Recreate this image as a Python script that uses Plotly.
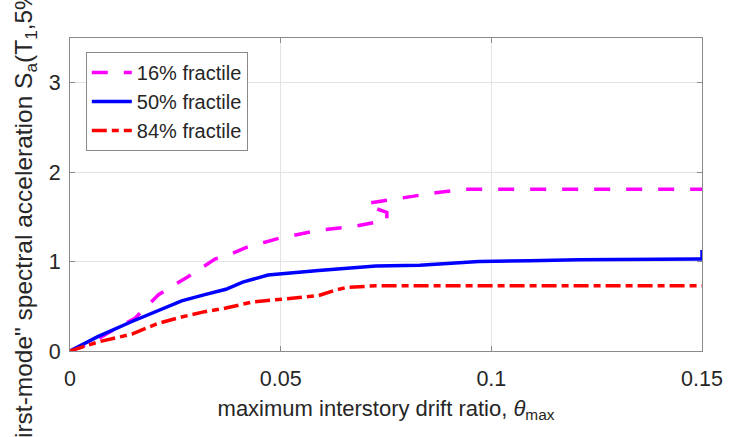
import plotly.graph_objects as go

# 16% fractile
x16 = [0, 0.005, 0.009, 0.0155, 0.021, 0.028, 0.0345, 0.037, 0.042, 0.0496, 0.059, 0.067, 0.0726, 0.0752, 0.0752, 0.0716, 0.0705, 0.0787, 0.0868, 0.094, 0.15]
y16 = [0, 0.09, 0.20, 0.37, 0.63, 0.83, 1.03, 1.06, 1.16, 1.26, 1.35, 1.39, 1.44, 1.46, 1.55, 1.61, 1.65, 1.71, 1.77, 1.81, 1.81]
# 50% fractile
x50 = [0, 0.0066, 0.0147, 0.0208, 0.0265, 0.032, 0.037, 0.041, 0.047, 0.059, 0.0726, 0.083, 0.097, 0.109, 0.1206, 0.149, 0.15, 0.15]
y50 = [0, 0.16, 0.33, 0.45, 0.56, 0.63, 0.69, 0.77, 0.85, 0.90, 0.95, 0.96, 1.00, 1.01, 1.02, 1.03, 1.03, 1.13]
# 84% fractile
x84 = [0, 0.0066, 0.0147, 0.021, 0.0265, 0.032, 0.037, 0.0435, 0.055, 0.059, 0.063, 0.0655, 0.0726, 0.15]
y84 = [0, 0.10, 0.19, 0.31, 0.38, 0.44, 0.48, 0.55, 0.60, 0.62, 0.68, 0.71, 0.73, 0.73]

names = ["16% fractile", "50% fractile", "84% fractile"]
xticks = [0, 0.05, 0.1, 0.15]
xticklabels = ["0", "0.05", "0.1", "0.15"]
yticks = [0, 1, 2, 3]

FONT = "Liberation Sans, Arial, sans-serif"
TXT = "#262626"

fig = go.Figure()
fig.add_trace(go.Scatter(x=x16, y=y16, mode="lines", name=names[0],
                         line=dict(color="#FF00FF", width=3.5, dash="16px,16px")))
fig.add_trace(go.Scatter(x=x50, y=y50, mode="lines", name=names[1],
                         line=dict(color="#0000FF", width=3.5)))
fig.add_trace(go.Scatter(x=x84, y=y84, mode="lines", name=names[2],
                         line=dict(color="#FF0000", width=3.5, dash="15px,5px,7px,5px")))

axcommon = dict(showline=True, linecolor="#8a8a8a", linewidth=1, mirror="ticks",
                ticks="inside", ticklen=5, tickcolor="#8a8a8a",
                showgrid=True, gridcolor="#e3e3e3", gridwidth=1,
                zeroline=False, tickfont=dict(family=FONT, size=21.5, color=TXT))

fig.update_xaxes(range=[0, 0.15], tickvals=xticks, ticktext=xticklabels,
                 ticklabelstandoff=8,
                 title=dict(text="maximum interstory drift ratio, <i>θ</i><sub>max</sub>",
                            font=dict(family=FONT, size=22, color=TXT), standoff=10),
                 **axcommon)
fig.update_yaxes(range=[0, 3.5], tickvals=yticks, ticklabelstandoff=4, **axcommon)

fig.add_annotation(text='"first-mode" spectral acceleration S<sub>a</sub>(T<sub>1</sub>,5%) (g)',
                   textangle=-90, xref="paper", yref="paper", x=0, y=0.5,
                   xanchor="center", yanchor="middle", xshift=-45, yshift=-4,
                   showarrow=False,
                   font=dict(family=FONT, size=24.5, color=TXT))

fig.update_layout(
    width=735, height=437,
    margin=dict(l=70, r=31, t=38, b=86),
    paper_bgcolor="white", plot_bgcolor="white",
    showlegend=True,
    legend=dict(x=0.025, y=0.955, xanchor="left", yanchor="top",
                bgcolor="white", bordercolor="#8a8a8a", borderwidth=1,
                font=dict(family=FONT, size=20, color=TXT),
                itemwidth=40, tracegroupgap=0),
)

fig.write_html("out.html")
